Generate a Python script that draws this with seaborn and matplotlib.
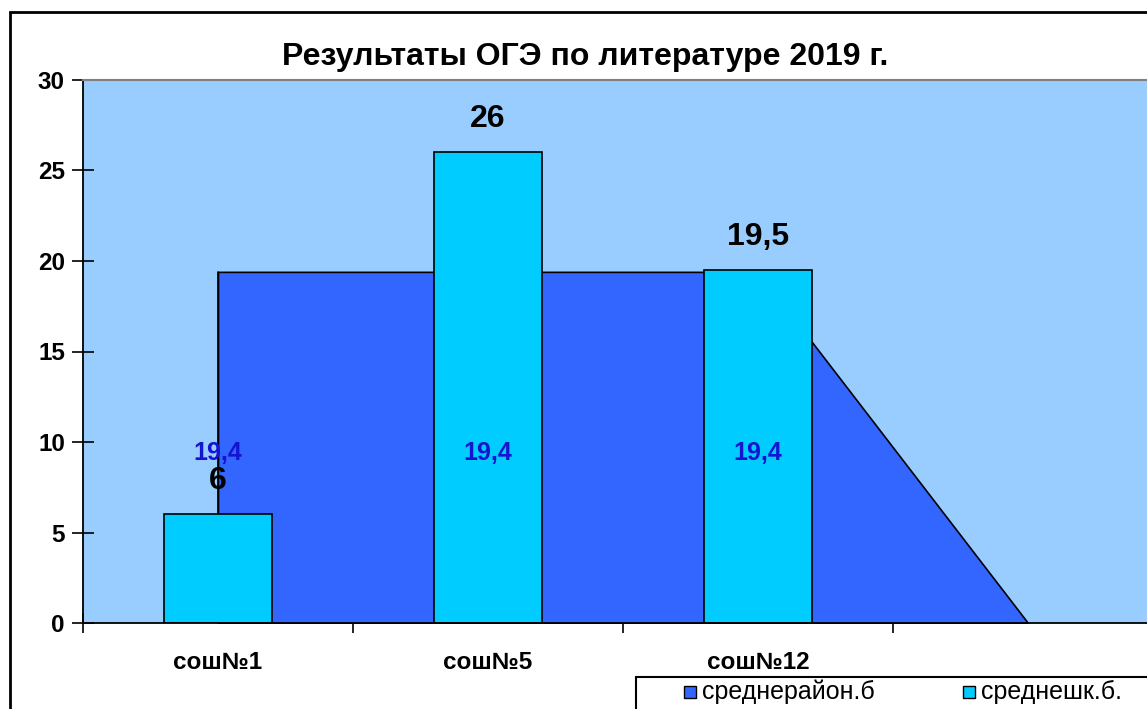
import matplotlib
matplotlib.use("Agg")
import matplotlib.pyplot as plt
from matplotlib.patches import Rectangle
import seaborn as sns
import pandas as pd
import numpy as np

title = "Результаты ОГЭ по литературе 2019 г."
categories = ["сош№1", "сош№5", "сош№12", ""]
district_avg = [19.4, 19.4, 19.4, 0]
school_avg = [6, 26, 19.5]
series_names = ["среднерайон.б", "среднешк.б."]
y_ticks = [0, 5, 10, 15, 20, 25, 30]

C_BG = "#99CCFF"
C_AREA = "#3366FF"
C_BAR = "#00CCFF"
C_LBL = "#1414D2"

sns.set_theme(style="white")
plt.rcParams["font.family"] = ["Liberation Sans", "DejaVu Sans"]
plt.rcParams["text.color"] = "black"
plt.rcParams["xtick.color"] = "black"
plt.rcParams["ytick.color"] = "black"
plt.rcParams["xtick.labelcolor"] = "black"
plt.rcParams["ytick.labelcolor"] = "black"

fig = plt.figure(figsize=(11.47, 7.09), dpi=100)
L, B = 83 / 1147, 1 - 623 / 709
ax = fig.add_axes([L, B, 1 - L + 0.02, (623 - 80) / 709])
ax.set_facecolor(C_BG)

xs = np.arange(len(categories))
ax.fill_between(xs, 0, district_avg, color=C_AREA, edgecolor="black", linewidth=1.2, zorder=1)
ax.plot([xs[0], xs[0]], [0, district_avg[0]], color="black", lw=1.2, zorder=1.5)

df = pd.DataFrame({"cat": categories[:3], "val": school_avg})
sns.barplot(data=df, x="cat", y="val", order=categories[:3], color=C_BAR, width=0.4,
            edgecolor="black", linewidth=1.2, saturation=1, ax=ax, zorder=2)

ax.set_xlim(-0.5, -0.5 + (1147 - 83) / 270 + 0.02 * 1147 / 270)
ax.set_ylim(0, 30)
ax.set_xlabel("")
ax.set_ylabel("")

# district labels at mid-height
for i in range(3):
    ax.annotate(f"{district_avg[i]:.1f}".replace(".", ","), (xs[i], district_avg[i] / 2),
                xytext=(0, -9), textcoords="offset points", ha="center", va="baseline",
                color=C_LBL, fontsize=18, fontweight="bold", zorder=5)
# bar labels
for i, v in enumerate(school_avg):
    s = f"{v:g}".replace(".", ",")
    ax.annotate(s, (xs[i], v), xytext=(0, 18), textcoords="offset points",
                ha="center", va="baseline", color="black", fontsize=23, fontweight="bold", zorder=5)

# ticks
ax.set_xticks(np.arange(-0.5, 4, 1.0))
ax.set_xticklabels([])
ax.set_xticks(xs[:3], minor=True)
ax.set_xticklabels(categories[:3], minor=True, fontsize=17.5, fontweight="bold")
ax.tick_params(axis="x", which="major", direction="inout", length=14, width=1.2, color="black", bottom=True)
ax.tick_params(axis="x", which="minor", length=0, pad=20)
ax.set_yticks(y_ticks)
ax.set_yticklabels([str(t) for t in y_ticks], fontsize=17.5, fontweight="bold")
ax.tick_params(axis="y", direction="inout", length=16, width=1.2, color="black", left=True, pad=5)

ax.spines["right"].set_visible(False)
ax.spines["left"].set_color("black"); ax.spines["left"].set_linewidth(1.3)
ax.spines["bottom"].set_color("black"); ax.spines["bottom"].set_linewidth(1.3)
ax.spines["top"].set_color("#808080"); ax.spines["top"].set_linewidth(1.5)

fig.text(585 / 1147, 1 - 57 / 709, title, ha="center", va="center", fontsize=23, fontweight="bold",
         color="black")

# outer chart frame
fig.patches.append(Rectangle((10 / 1147, -0.1), 1.2, 1 - 12 / 709 + 0.1, transform=fig.transFigure,
                             fill=False, edgecolor="black", linewidth=2, zorder=0))

# legend frame and entries
fig.patches.append(Rectangle((636 / 1147, -0.1), 1.0, 0.1 + 1 - 677 / 709, transform=fig.transFigure,
                             facecolor="white", edgecolor="black", linewidth=1.5, zorder=3))
for xpx, col, name in [(684, C_AREA, series_names[0]), (963, C_BAR, series_names[1])]:
    fig.patches.append(Rectangle((xpx / 1147, 1 - 698 / 709), 12 / 1147, 12 / 709, transform=fig.transFigure,
                                 facecolor=col, edgecolor="black", linewidth=1, zorder=4))
    fig.text((xpx + 18) / 1147, 1 - 692 / 709, name, ha="left", va="center", fontsize=18, zorder=5,
             color="black")

fig.savefig("out.png", dpi=100)
